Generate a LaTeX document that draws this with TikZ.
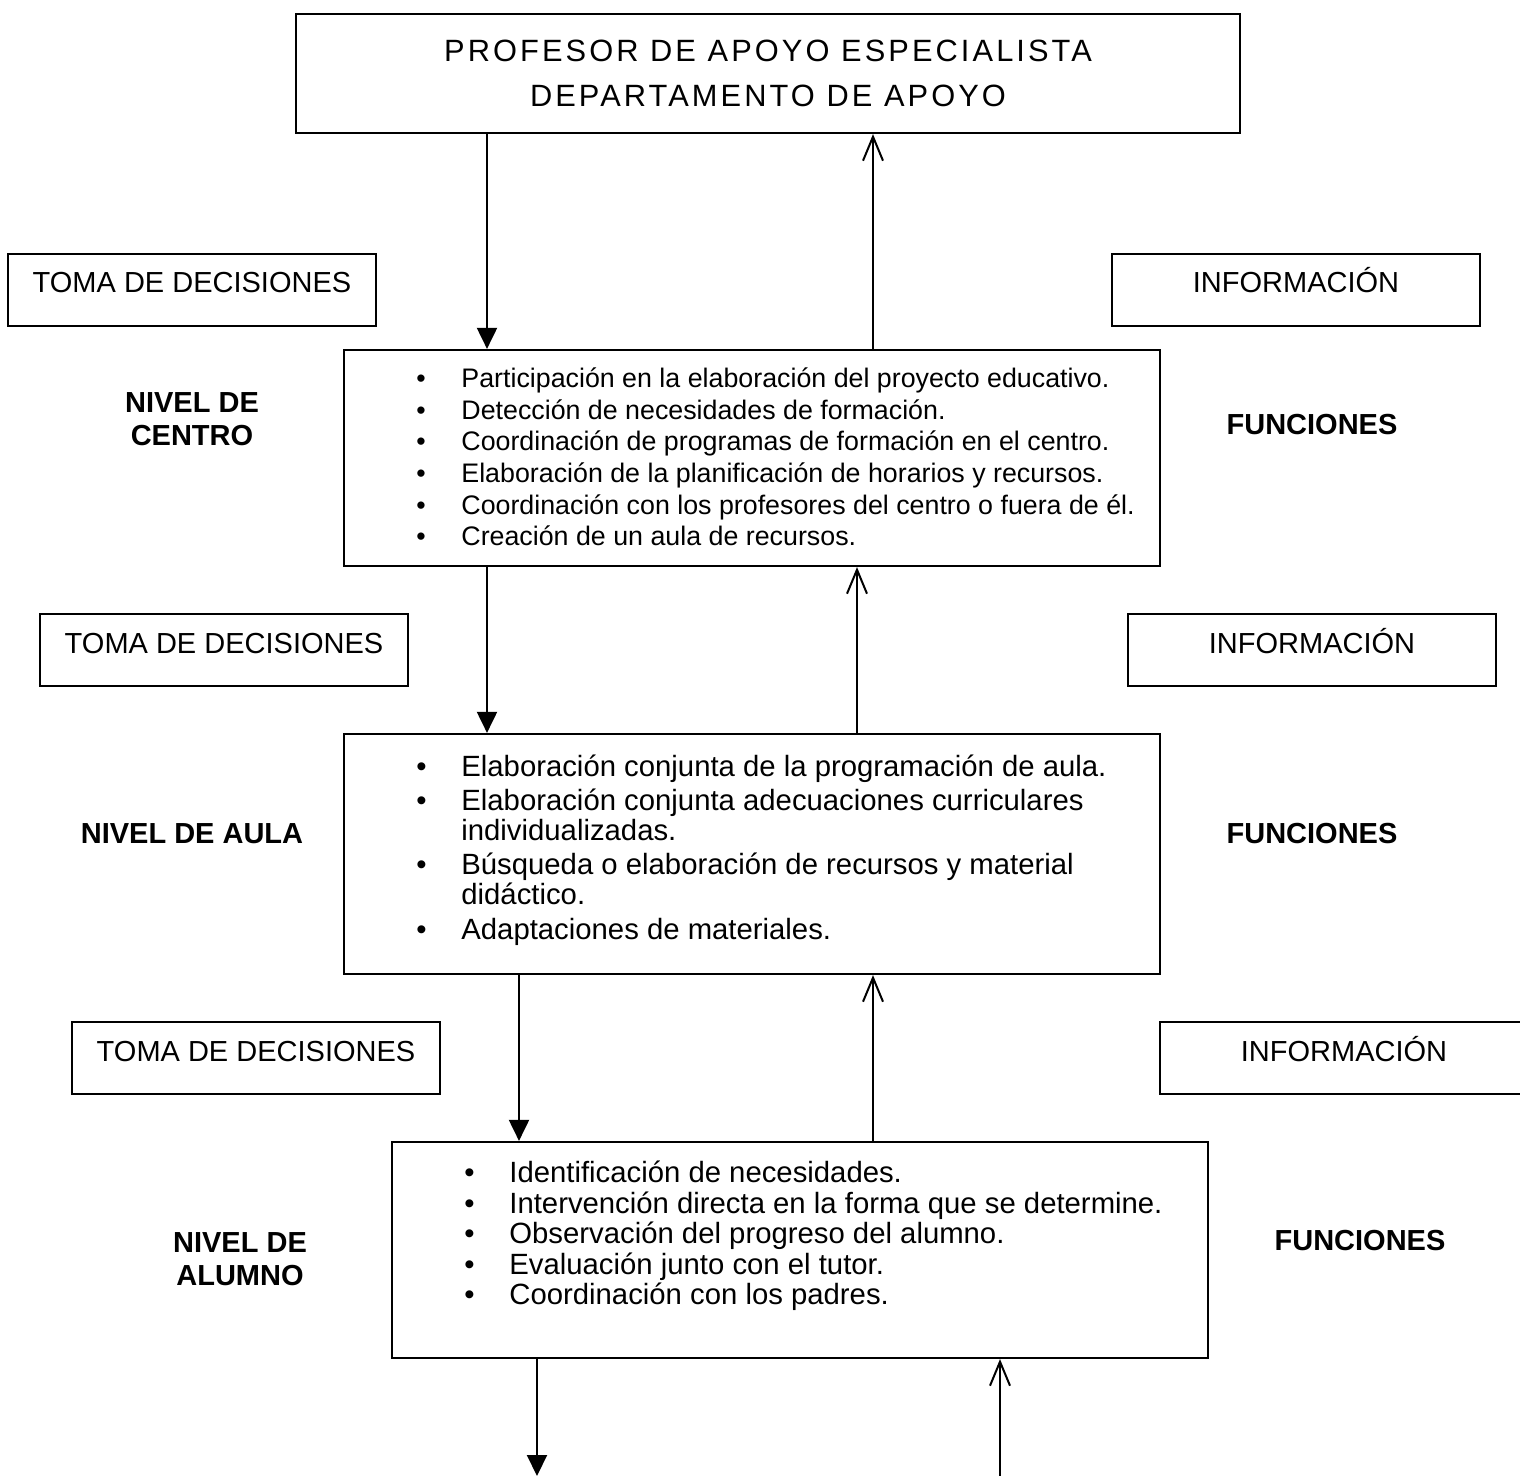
\documentclass[tikz,border=0pt]{standalone}
\usepackage{fontspec}
\setmainfont{Liberation Sans}
\newfontfamily\titulo[LetterSpace=10]{Liberation Sans}
\usetikzlibrary{arrows.meta}
\newcommand{\punto}{\makebox[22.5pt][l]{\textbullet}}
\tikzset{
  caja/.style={draw,line width=1.1pt,inner sep=0pt},
  etiqueta/.style={caja,minimum width=184pt,text height=19.5pt,text depth=16.5pt},
  nivel/.style={font=\fontsize{14.5}{16.5}\selectfont\bfseries,align=center},
  lista/.style={align=left,inner sep=0pt,anchor=west},
  baja/.style={line width=1pt,-{Triangle[length=10.5pt,width=10pt]}},
  sube/.style={line width=1pt,-{Straight Barb[length=12pt,width=10pt]}},
  every node/.style={font=\fontsize{14.5}{16.5}\selectfont}
}
\begin{document}
\begin{tikzpicture}[x=0.5pt,y=-0.5pt]
\useasboundingbox (0,0) rectangle (1520,1476);
\node[caja,minimum width=472pt,minimum height=59.5pt,align=center,
  font={\titulo\fontsize{15.4}{22.5}\selectfont}] (prof) at (768,73.5)
  {PROFESOR DE APOYO ESPECIALISTA\\DEPARTAMENTO DE APOYO};
% nivel de centro
\node[etiqueta] (toma1) at (192,290) {TOMA DE DECISIONES};
\node[etiqueta] (info1) at (1296,290) {INFORMACIÓN};
\node[caja,minimum width=408pt,minimum height=108pt] (centro) at (752,458) {};
\node[lista,font={\fontsize{13.4}{15.85}\selectfont}] (centrotxt) at (416,457)
  {\punto Participación en la elaboración del proyecto educativo.\\
   \punto Detección de necesidades de formación.\\
   \punto Coordinación de programas de formación en el centro.\\
   \punto Elaboración de la planificación de horarios y recursos.\\
   \punto Coordinación con los profesores del centro o fuera de él.\\
   \punto Creación de un aula de recursos.};
\node[nivel] (ncentro) at (192,419) {NIVEL DE\\CENTRO};
\node[nivel] (fcentro) at (1312,425) {FUNCIONES};
% nivel de aula
\node[etiqueta] (toma2) at (224,650) {TOMA DE DECISIONES};
\node[etiqueta] (info2) at (1312,650) {INFORMACIÓN};
\node[caja,minimum width=408pt,minimum height=120pt] (aula) at (752,854) {};
\node[lista,font={\fontsize{14.65}{15}\selectfont}] (aulatxt) at (416,850)
  {\punto Elaboración conjunta de la programación de aula.\\[2.2pt]
   \punto Elaboración conjunta adecuaciones curriculares\\
   \hspace*{22.5pt}individualizadas.\\[2.2pt]
   \punto Búsqueda o elaboración de recursos y material\\
   \hspace*{22.5pt}didáctico.\\[2.2pt]
   \punto Adaptaciones de materiales.};
\node[nivel] (naula) at (192,834) {NIVEL DE AULA};
\node[nivel] (faula) at (1312,834) {FUNCIONES};
% nivel de alumno
\node[etiqueta] (toma3) at (256,1058) {TOMA DE DECISIONES};
\node[etiqueta] (info3) at (1344,1058) {INFORMACIÓN};
\node[caja,minimum width=408pt,minimum height=108pt] (alumno) at (800,1250) {};
\node[lista,font={\fontsize{14.65}{15.25}\selectfont}] (alumnotxt) at (464,1236)
  {\punto Identificación de necesidades.\\
   \punto Intervención directa en la forma que se determine.\\
   \punto Observación del progreso del alumno.\\
   \punto Evaluación junto con el tutor.\\
   \punto Coordinación con los padres.};
\node[nivel] (nalumno) at (240,1259) {NIVEL DE\\ALUMNO};
\node[nivel] (falumno) at (1360,1241) {FUNCIONES};
\coordinate (finA) at (537,1476);
\coordinate (finB) at (1000,1476);
\draw[baja](prof.south -| 487,0)--(centro.north -| 487,0);
\draw[sube](centro.north -| 873,0)--(prof.south -| 873,0);
\draw[baja](centro.south -| 487,0)--(aula.north -| 487,0);
\draw[sube](aula.north -| 857,0)--(centro.south -| 857,0);
\draw[baja](aula.south -| 519,0)--(alumno.north -| 519,0);
\draw[sube](alumno.north -| 873,0)--(aula.south -| 873,0);
\draw[baja](alumno.south -| finA)--(finA);
\draw[sube](finB)--(alumno.south -| finB);
\end{tikzpicture}
\end{document}
